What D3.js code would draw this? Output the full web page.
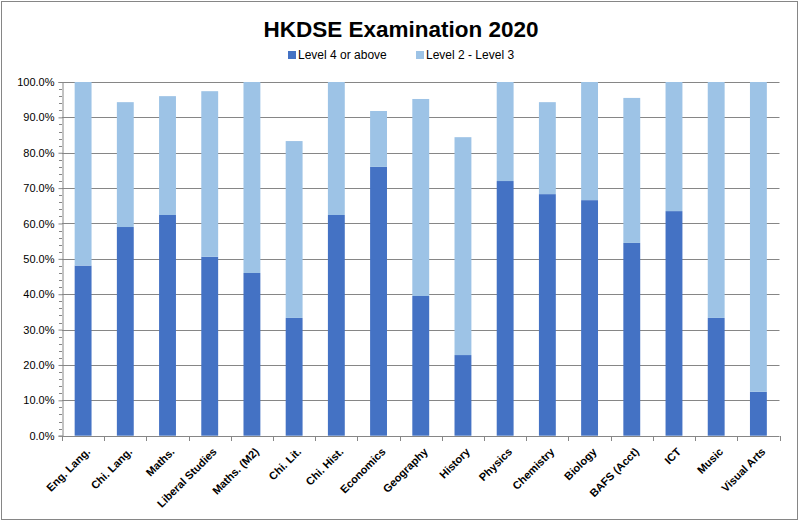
<!DOCTYPE html>
<html><head><meta charset="utf-8">
<script src="https://cdn.jsdelivr.net/npm/d3@7"></script>
<style>body{margin:0;background:#fff}svg{display:block}</style>
</head><body><svg id="c" width="800" height="523"></svg>
<script>
const categories = ["Eng. Lang.","Chi. Lang.","Maths.","Liberal Studies","Maths. (M2)","Chi. Lit.","Chi. Hist.","Economics","Geography","History","Physics","Chemistry","Biology","BAFS (Acct)","ICT","Music","Visual Arts"];
const level4 = [48.1,59.0,62.4,50.6,46.0,33.3,62.4,76.0,39.5,22.8,72.0,68.3,66.6,54.5,63.5,33.3,12.4];
const level23 = [51.9,35.3,33.6,46.8,54.0,50.0,37.6,15.8,55.7,61.6,28.0,26.0,33.4,41.0,36.5,66.7,87.6];
const seriesNames = ["Level 4 or above","Level 2 - Level 3"];
const colors = ["#4472C4","#9DC3E6"];
const yTicks = [0,10,20,30,40,50,60,70,80,90,100];
const title = "HKDSE Examination 2020";

const svg = d3.select("#c");
svg.append("rect").attr("x",1.5).attr("y",1.5).attr("width",796).attr("height",518)
  .attr("fill","#fff").attr("stroke","#868686").attr("stroke-width",1);

const m = {left:62, right:779.5, top:82, bottom:435.7};
const x = d3.scaleBand().domain(categories).range([m.left,m.right]).paddingInner(0.6).paddingOuter(0.3);
const xb = d3.scaleBand().domain(categories).range([m.left,m.right]);
const y = d3.scaleLinear().domain([0,100]).range([m.bottom,m.top]);
const gridColor = "#868686";

// gridlines
svg.append("g").selectAll("line").data(yTicks.filter(d=>d>0)).join("line")
  .attr("x1",m.left).attr("x2",m.right).attr("y1",d=>Math.round(y(d))+0.5).attr("y2",d=>Math.round(y(d))+0.5)
  .attr("stroke",gridColor).attr("stroke-width",1);

// bars
const stacked = d3.stack().keys([0,1]).value((d,k)=>k===0?d.a:d.b)(categories.map((c,i)=>({c,a:level4[i],b:level23[i]})));
svg.append("g").selectAll("g").data(stacked).join("g").attr("fill",(d,i)=>colors[i])
  .selectAll("rect").data(d=>d).join("rect")
  .attr("x",d=>x(d.data.c)).attr("width",x.bandwidth())
  .attr("y",d=>y(d[1])).attr("height",d=>y(d[0])-y(d[1]));

// y axis
const yAxis = d3.axisLeft(y).tickValues(yTicks).tickSize(4).tickFormat(d=>d3.format(".1f")(d)+"%");
const ga = svg.append("g").attr("transform",`translate(${m.left+0.5},0)`).call(yAxis);
ga.select(".domain").attr("stroke",gridColor);
ga.selectAll(".tick line").attr("stroke",gridColor);
ga.selectAll("text").attr("font-family","Liberation Sans, Arial, sans-serif").attr("font-size",11).attr("fill","#000").attr("x",-8);
// minor ticks
svg.append("g").selectAll("line").data(d3.range(0,101,2).filter(d=>d%10!==0)).join("line")
  .attr("x1",m.left-3).attr("x2",m.left).attr("y1",d=>Math.round(y(d))+0.5).attr("y2",d=>Math.round(y(d))+0.5)
  .attr("stroke",gridColor);

// x axis
svg.append("line").attr("x1",m.left).attr("x2",m.right).attr("y1",Math.round(m.bottom)+0.5).attr("y2",Math.round(m.bottom)+0.5).attr("stroke",gridColor);
const bounds = categories.map(c=>xb(c)).concat([m.right]);
svg.append("g").selectAll("line").data(bounds).join("line")
  .attr("x1",d=>Math.round(d)+0.5).attr("x2",d=>Math.round(d)+0.5)
  .attr("y1",Math.round(m.bottom)).attr("y2",Math.round(m.bottom)+5).attr("stroke",gridColor);
svg.append("g").selectAll("text").data(categories).join("text")
  .attr("transform",d=>`translate(${xb(d)+xb.bandwidth()/2+5},${m.bottom+14}) rotate(-45)`)
  .attr("text-anchor","end").attr("dy","0.35em")
  .attr("font-family","Liberation Sans, Arial, sans-serif").attr("font-size",11).attr("font-weight","bold").attr("fill","#000")
  .text(d=>d);

// title
svg.append("text").attr("x",401).attr("y",37).attr("text-anchor","middle")
  .attr("font-family","Liberation Sans, Arial, sans-serif").attr("font-weight","bold").attr("font-size",22.5)
  .attr("fill","#000").text(title);

// legend
const legX = [288, 416];
const lg = svg.append("g").selectAll("g").data(seriesNames).join("g").attr("transform",(d,i)=>`translate(${legX[i]},50)`);
lg.append("rect").attr("width",8).attr("height",8).attr("y",1).attr("fill",(d,i)=>colors[i]);
lg.append("text").attr("x",10).attr("y",9).attr("font-family","Liberation Sans, Arial, sans-serif").attr("font-size",12).attr("fill","#000").text(d=>d);
</script></body></html>
